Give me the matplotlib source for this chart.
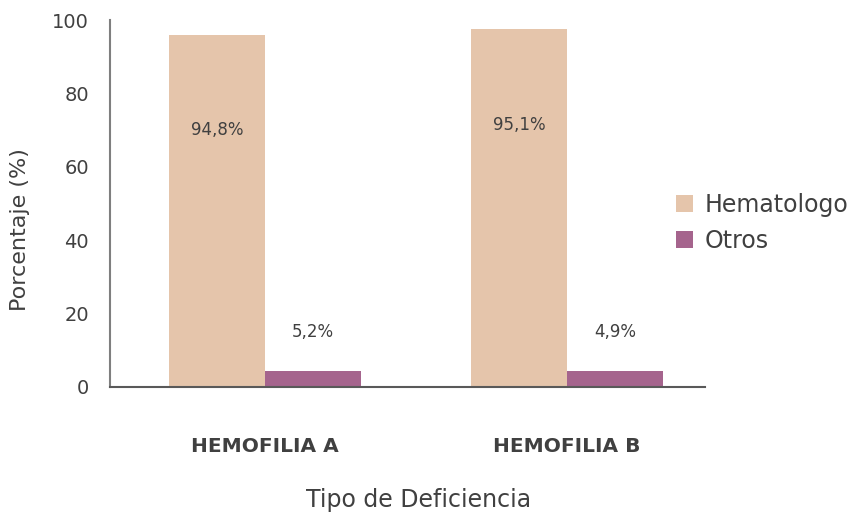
import numpy as np
import matplotlib.pyplot as plt

plt.rcParams['font.family'] = ['DejaVu Sans']

categories = ['HEMOFILIA A', 'HEMOFILIA B']
series_names = ['Hematologo', 'Otros']
hematologo = [95.9, 97.5]
otros = [4.4, 4.4]
hema_labels = ['94,8%', '95,1%']
otros_labels = ['5,2%', '4,9%']

text_color = '#404040'
colors = ['#E5C5AB', '#A5648D']

fig = plt.figure(figsize=(8.54, 5.17), dpi=100)
ax = fig.add_axes([0.1288, 0.2515, 0.6967, 0.7098])

x = np.arange(len(categories))
w = 0.318
ax.bar(x - w / 2, hematologo, w, color=colors[0], label=series_names[0])
ax.bar(x + w / 2, otros, w, color=colors[1], label=series_names[1])

# value labels: inside the tall bars, above the short ones
for xi, v, t in zip(x, hematologo, hema_labels):
    ax.text(xi - w / 2, v - 26.0, t, ha='center', va='center',
            fontsize=12, color=text_color)
for xi, v, t in zip(x, otros, otros_labels):
    ax.text(xi + w / 2, v + 10.5, t, ha='center', va='center',
            fontsize=12, color=text_color)

ax.set_xlim(-0.513, 1.457)
ax.set_ylim(0, 100)
ax.set_yticks(range(0, 101, 20))
ax.set_xticks(x)
ax.set_xticklabels(categories, fontsize=14.5, fontweight='bold', color=text_color)
ax.tick_params(axis='x', length=0, pad=36)
ax.tick_params(axis='y', length=0, pad=15, labelsize=14, labelcolor=text_color)

ax.spines['top'].set_visible(False)
ax.spines['right'].set_visible(False)
ax.spines['left'].set_color('#7f7f7f')
ax.spines['left'].set_linewidth(1.5)
ax.spines['bottom'].set_color('#595959')
ax.spines['bottom'].set_linewidth(1.5)

ax.set_xlabel('Tipo de Deficiencia', fontsize=17, color=text_color)
ax.xaxis.set_label_coords(0.518, -0.308)
ax.xaxis.label.set_va('center')
ax.set_ylabel('Porcentaje (%)', fontsize=16, color=text_color)
ax.yaxis.set_label_coords(-0.151, 0.43)
ax.yaxis.label.set_va('center')

ax.legend(loc='center left', bbox_to_anchor=(0.951, 0.447), frameon=False,
          fontsize=17, labelcolor=text_color, handlelength=0.72,
          handleheight=0.72, handletextpad=0.5, labelspacing=0.5,
          borderpad=0, borderaxespad=0)

fig.savefig('out.png', dpi=100)
